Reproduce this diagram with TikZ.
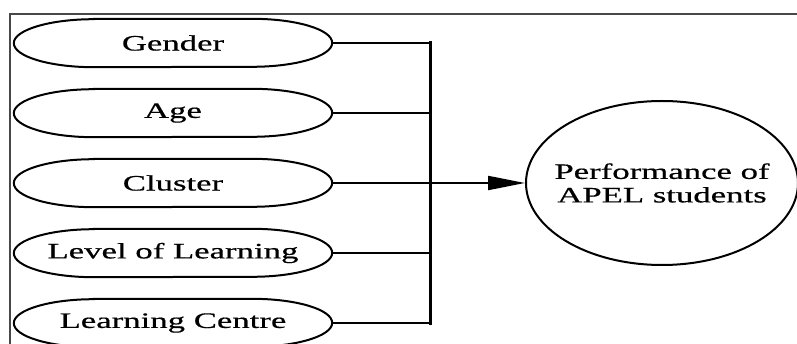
\documentclass[tikz,border=0pt]{standalone}
\usepackage{fontspec}
\setmainfont{Liberation Serif}[FakeStretch=1.58,FakeBold=0.6]
\usetikzlibrary{shapes.geometric,arrows.meta}
\newcommand\pilloutline[1]{%
  \draw[pillline] ([xshift=80pt]#1.north west) -- ([xshift=-80pt]#1.north east)
    arc[start angle=90,end angle=-90,x radius=80pt,y radius=24pt]
    -- ([xshift=80pt]#1.south west)
    arc[start angle=270,end angle=90,x radius=80pt,y radius=24pt] -- cycle;}
\begin{document}
\begin{tikzpicture}[x=1pt,y=1pt,
  factor/.style={rectangle,minimum width=318pt,minimum height=48pt,inner sep=0pt,font=\fontsize{22}{24}\selectfont},
  pillline/.style={draw=black,line width=2pt},
  outcome/.style={ellipse,draw=black,line width=2pt,minimum width=272pt,minimum height=164pt,inner xsep=-50pt,inner ysep=0pt,align=center,font=\fontsize{22}{23.5}\selectfont},
  link/.style={draw=black,line width=2pt},
  frameline/.style={draw=black!72,line width=2.2pt}]
\useasboundingbox (0,0) rectangle (797,-344);
\draw[frameline] (10,-350) -- (10,-14) -- (800,-14);
\node[factor] (g) at (173,-43) {Gender};
\node[factor] (a) at (173,-113) {Age};
\node[factor] (c) at (173,-183) {Cluster};
\node[factor] (l) at (173,-253) {Level of Learning};
\node[factor] (lc) at (173,-323) {Learning Centre};
\pilloutline{g}
\pilloutline{a}
\pilloutline{c}
\pilloutline{l}
\pilloutline{lc}
\node[outcome] (p) at (662,-183) {Performance of\\APEL students};
\coordinate (bt) at (430,-43);
\coordinate (bb) at (430,-323);
\draw[link,line width=3pt,line cap=rect] (bt) -- (bb);
\draw[link] (g.east) -- (g.east -| bt);
\draw[link] (a.east) -- (a.east -| bt);
\draw[link] (l.east) -- (l.east -| bt);
\draw[link] (lc.east) -- (lc.east -| bt);
\draw[link,-{Triangle[length=37pt,width=14pt]}] (c.east) -- (p.west);
\end{tikzpicture}
\end{document}
